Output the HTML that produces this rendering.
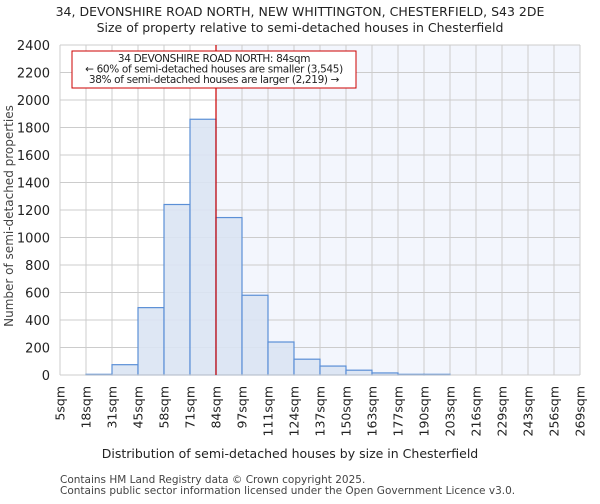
<!DOCTYPE html>
<html><head><meta charset="utf-8"><style>
body{margin:0;background:#fff;font-family:"DejaVu Sans","Liberation Sans",sans-serif;}
svg text{font-family:"DejaVu Sans","Liberation Sans",sans-serif;fill:#222;}
</style></head><body>
<svg id="chart" width="600" height="500" xmlns="http://www.w3.org/2000/svg">
<text x="300" y="16" text-anchor="middle" font-size="12.5">34, DEVONSHIRE ROAD NORTH, NEW WHITTINGTON, CHESTERFIELD, S43 2DE</text>
<text x="300" y="32" text-anchor="middle" font-size="12.5">Size of property relative to semi-detached houses in Chesterfield</text>
<g id="plot"></g>
<text x="290" y="458" text-anchor="middle" font-size="12.5">Distribution of semi-detached houses by size in Chesterfield</text>
<text transform="translate(13,216) rotate(-90)" text-anchor="middle" font-size="12" fill="#444" style="fill:#444">Number of semi-detached properties</text>
<text x="60" y="483" font-size="10.5" style="fill:#444">Contains HM Land Registry data © Crown copyright 2025.</text>
<text x="60" y="494" font-size="10.5" style="fill:#444">Contains public sector information licensed under the Open Government Licence v3.0.</text>
</svg>
<script>
const binLabels=["5sqm","18sqm","31sqm","45sqm","58sqm","71sqm","84sqm","97sqm","111sqm","124sqm","137sqm","150sqm","163sqm","177sqm","190sqm","203sqm","216sqm","229sqm","243sqm","256sqm","269sqm"];
const counts=[0,5,75,490,1240,1860,1145,580,240,115,65,35,15,5,5,0,0,0,0,0];
const yTicks=[0,200,400,600,800,1000,1200,1400,1600,1800,2000,2200,2400];
const markerIndex=6;
const NS="http://www.w3.org/2000/svg";
const L=60,R=580,T=45,B=375,yMax=2400;
const bw=(R-L)/counts.length;
const xs=i=>L+i*bw;
const ys=v=>B-(v/yMax)*(B-T);
const g=document.getElementById('plot');
function mk(tag,attrs){const e=document.createElementNS(NS,tag);for(const k in attrs)e.setAttribute(k,attrs[k]);g.appendChild(e);return e;}
const shade=mk('rect',{x:xs(markerIndex),y:T,width:R-xs(markerIndex),height:B-T,fill:'#f3f6fd'});


yTicks.forEach(t=>{
 const ln=mk('line',{x1:L,x2:R,y1:ys(t),y2:ys(t),stroke:'#cccccc','stroke-width':1});
 
 
 const tx=mk('text',{x:L-10,y:ys(t)+5,'text-anchor':'end','font-size':13});
 tx.textContent=t;
 
 
});
binLabels.forEach((lb,i)=>{
 const ln=mk('line',{x1:xs(i),x2:xs(i),y1:T,y2:B,stroke:'#cccccc','stroke-width':1});
 
 
 const tx=mk('text',{transform:`translate(${xs(i)+4.5},386) rotate(-90)`,'text-anchor':'end','font-size':12.5});
 tx.textContent=lb;
 
 
});
counts.forEach((c,i)=>{
 if(c<=0)return;
 const r=mk('rect',{x:xs(i),y:ys(c),width:bw,height:B-ys(c),fill:'#dae4f3','fill-opacity':0.9,stroke:'#5b8fd6','stroke-width':1.2});
 
 
});
const ax=mk('line',{x1:L,x2:R,y1:B,y2:B,stroke:'#cccccc','stroke-width':1});


const ml=mk('line',{x1:xs(markerIndex),x2:xs(markerIndex),y1:T,y2:B,stroke:'#cc0000','stroke-width':1.2});


const box=mk('rect',{x:72,y:51,width:284,height:37,fill:'#fff',stroke:'#cc0000','stroke-width':1});


["34 DEVONSHIRE ROAD NORTH: 84sqm","← 60% of semi-detached houses are smaller (3,545)","38% of semi-detached houses are larger (2,219) →"].forEach((s,i)=>{
 const t=mk('text',{x:214,y:62+i*10.5,'text-anchor':'middle','font-size':10.5,'letter-spacing':'-0.35'});
 t.textContent=s;
 
 
});
</script>
</body></html>
